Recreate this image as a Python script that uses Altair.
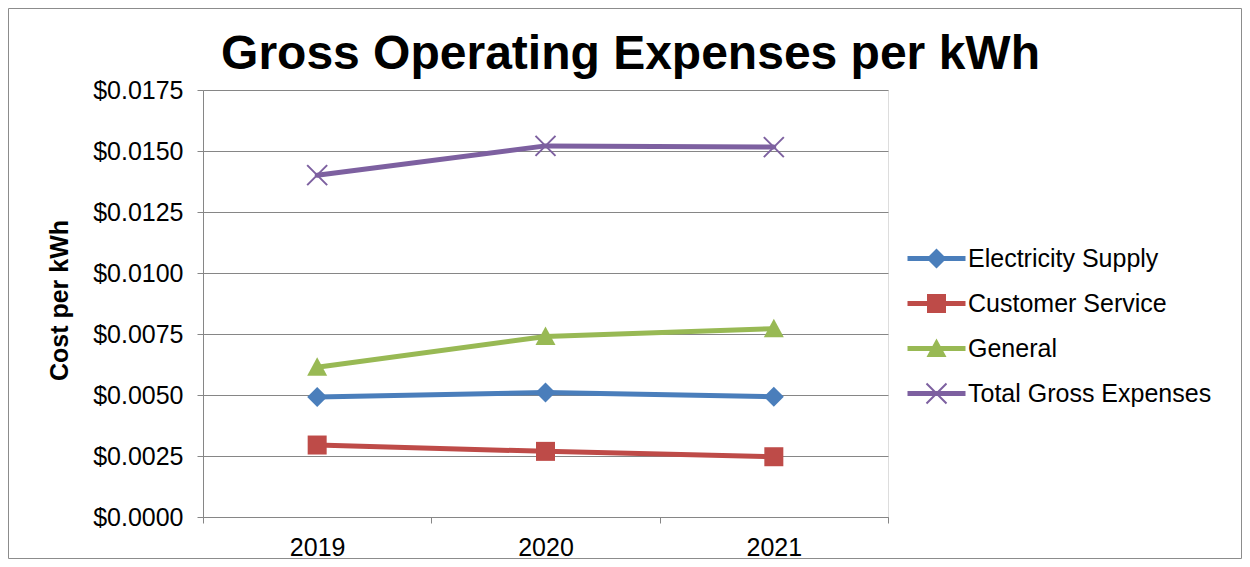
import altair as alt
import pandas as pd

# ---- data ----
years = ["2019", "2020", "2021"]
series = ["Electricity Supply", "Customer Service", "General", "Total Gross Expenses"]
electricity_supply = [0.00492, 0.00510, 0.00493]
customer_service = [0.00295, 0.00269, 0.00247]
general = [0.00614, 0.00740, 0.00772]
total_gross = [0.01401, 0.01521, 0.01516]
y_ticks = [0.0, 0.0025, 0.005, 0.0075, 0.01, 0.0125, 0.015, 0.0175]

colors = ["#4A7EBB", "#BE4B48", "#98B954", "#7D60A0"]

rows = []
for name, vals in zip(series, [electricity_supply, customer_service, general, total_gross]):
    for yr, v in zip(years, vals):
        rows.append({"Year": yr, "Series": name, "Cost": v})
df = pd.DataFrame(rows)

# ---- marker shapes (unit paths) ----
a = 0.07
diamond = "M0,-1L1,0L0,1L-1,0Z"
square = "M-0.95,-0.95H0.95V0.95H-0.95Z"
triangle = "M0,-1L1,0.85H-1Z"
xcross = (f"M{-1+a},{-1-a}L{1+a},{1-a}L{1-a},{1+a}L{-1-a},{-1+a}Z "
          f"M{-1-a},{1-a}L{1-a},{-1-a}L{1+a},{-1+a}L{-1+a},{1+a}Z")
markers = [diamond, square, triangle, xcross]
seg = "M-2.9,-0.25H2.9V0.25H-2.9Z "
legend_symbols = [seg + m for m in markers]

FONT = "Liberation Sans"
GRID = "#868686"

x_enc = alt.X(
    "Year:O",
    scale=alt.Scale(type="band", domain=years, paddingInner=0, paddingOuter=0),
    bandPosition=0.5,
    axis=alt.Axis(
        title=None, labelAngle=0, tickBand="extent", labelFontSize=25,
        labelColor="black", labelFont=FONT, labelPadding=12, tickSize=6,
        tickColor=GRID, domainColor=GRID, grid=False,
    ),
)
y_enc = alt.Y(
    "Cost:Q",
    scale=alt.Scale(domain=[0, 0.0175], nice=False, zero=True),
    axis=alt.Axis(
        values=y_ticks, format="$.4f", labelFontSize=25, labelColor="black",
        labelFont=FONT, labelPadding=14, tickSize=6, tickColor=GRID,
        domainColor=GRID, gridColor=GRID, grid=True,
        title="Cost per kWh", titleFontSize=25, titleFont=FONT,
        titleFontWeight="bold", titleColor="black", titleX=-144, titleY=210,
        titleBaseline="middle",
    ),
)
color_scale = alt.Scale(domain=series, range=colors)

lines = alt.Chart(df).mark_line(strokeWidth=5, strokeJoin="round", strokeCap="round").encode(
    x=x_enc, y=y_enc,
    color=alt.Color("Series:N", scale=color_scale, legend=None),
    detail="Series:N",
)

points = alt.Chart(df).mark_point(filled=True, opacity=1, size=400, strokeWidth=0).encode(
    x=x_enc, y=y_enc,
    color=alt.Color("Series:N", scale=color_scale, legend=None),
    shape=alt.Shape("Series:N", scale=alt.Scale(domain=series, range=markers), legend=None),
)

legend_common = dict(
    title=None, orient="none", legendX=721, legendY=156, padding=0,
    labelFont=FONT, labelFontSize=25, labelColor="black", labelOffset=19,
    labelLimit=400, rowPadding=19, symbolSize=400, symbolStrokeWidth=0,
)
legend_layer = alt.Chart(df).transform_filter("false").mark_point(
    filled=True, opacity=1, size=400, strokeWidth=0
).encode(
    x=x_enc, y=y_enc,
    color=alt.Color("Series:N", scale=color_scale, legend=alt.Legend(**legend_common)),
    shape=alt.Shape("Series:N", scale=alt.Scale(domain=series, range=legend_symbols),
                    legend=alt.Legend(**legend_common)),
)

frame = alt.Chart(pd.DataFrame({"f": [0]})).mark_rect(
    fillOpacity=0, stroke="#8C8C8C", strokeWidth=1
).encode(
    x=alt.value(-194.5), x2=alt.value(1038.5),
    y=alt.value(-81.5), y2=alt.value(468.5),
)

chart = alt.layer(frame, lines, points, legend_layer).resolve_scale(
    shape="independent", color="independent"
).properties(
    width=685, height=427,
    autosize=alt.AutoSizeParams(type="none"),
    padding={"left": 195, "top": 82, "right": 354, "bottom": 42},
    title=alt.Title(
        "Gross Operating Expenses per kWh", font=FONT, fontSize=48,
        fontWeight="bold", color="black", anchor="middle", dx=85,
        baseline="alphabetic", offset=-109,
    ),
).configure_view(stroke=None).configure(font=FONT)

chart.save("out.html", embed_options={"renderer": "svg", "actions": False})
